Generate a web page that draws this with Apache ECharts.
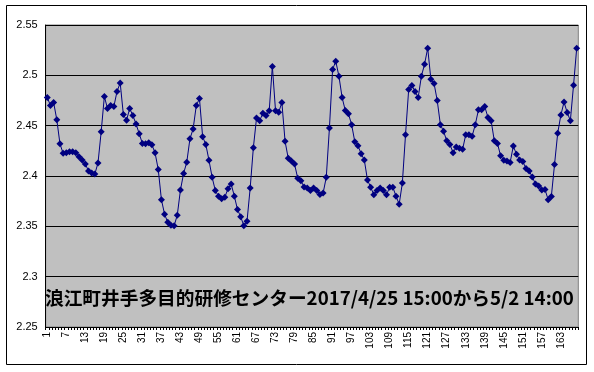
<!DOCTYPE html>
<html><head><meta charset="utf-8">
<script src="https://cdn.jsdelivr.net/npm/echarts@6/dist/echarts.min.js"></script>
<style>html,body{margin:0;padding:0;background:#fff}#c{width:594px;height:372px}</style>
</head><body><div id="c"></div>
<script>
const titleText = '浪江町井手多目的研修センター2017/4/25 15:00から5/2 14:00';
const yTicks = [2.25, 2.3, 2.35, 2.4, 2.45, 2.5, 2.55];
const values = [
 2.478,2.470,2.473,2.456,2.432,2.4225,2.423,2.424,2.424,2.423,
 2.419,2.416,2.412,2.405,2.403,2.402,2.413,2.444,2.479,2.467,
 2.470,2.469,2.484,2.4925,2.461,2.4555,2.467,2.460,2.4516,2.442,
 2.4323,2.432,2.433,2.431,2.423,2.4065,2.3765,2.362,2.354,2.351,
 2.3505,2.361,2.386,2.4026,2.4137,2.437,2.4467,2.470,2.477,2.439,
 2.4314,2.4157,2.3987,2.3856,2.380,2.3775,2.379,2.3873,2.392,2.380,
 2.3667,2.3595,2.3507,2.355,2.388,2.428,2.4575,2.455,2.4624,2.460,
 2.4647,2.5088,2.4647,2.4634,2.473,2.4346,2.4176,2.415,2.4118,2.3977,
 2.3954,2.389,2.388,2.3856,2.3882,2.3856,2.3817,2.383,2.3987,2.4477,
 2.5059,2.514,2.499,2.478,2.465,2.4618,2.451,2.434,2.430,2.4222,
 2.416,2.396,2.3889,2.3814,2.3856,2.388,2.3856,2.3814,2.3889,2.3889,
 2.380,2.372,2.393,2.441,2.486,2.490,2.484,2.478,2.499,2.511,
 2.527,2.496,2.492,2.475,2.451,2.4444,2.435,2.4314,2.4232,2.4288,
 2.4275,2.4265,2.441,2.441,2.4395,2.451,2.4657,2.4657,2.469,2.4582,
 2.455,2.435,2.4324,2.420,2.4157,2.415,2.4134,2.4297,2.4216,2.416,
 2.4144,2.4075,2.405,2.399,2.392,2.390,2.386,2.3866,2.3765,2.3797,
 2.4114,2.4425,2.4605,2.4735,2.463,2.455,2.4902,2.527
];
const categories = values.map((v, i) => String(i + 1));

const chart = echarts.init(document.getElementById('c'), null, {renderer: 'canvas'});
chart.setOption({
  animation: false,
  backgroundColor: '#fff',
  grid: {left: 45.7, right: 15.7, top: 25, bottom: 45, show: true, backgroundColor: '#C0C0C0', borderColor: '#808080', borderWidth: 1},
  xAxis: {
    type: 'category', data: categories, boundaryGap: true,
    axisLine: {lineStyle: {color: '#000', width: 1}},
    axisTick: {show: true, interval: 0, length: 3, lineStyle: {color: '#000'}},
    axisLabel: {interval: 5, rotate: 90, fontSize: 10, color: '#000', fontFamily: 'Liberation Sans, Arial', margin: 5},
    splitLine: {show: false}
  },
  yAxis: {
    type: 'value', min: yTicks[0], max: yTicks[yTicks.length - 1], interval: 0.05,
    axisLine: {show: true, lineStyle: {color: '#000', width: 1}},
    axisTick: {show: false},
    axisLabel: {fontSize: 11, color: '#000', fontFamily: 'Liberation Sans, Arial', margin: 8,
      formatter: v => String(+v.toFixed(2))},
    splitLine: {show: true, lineStyle: {color: '#000', width: 1}}
  },
  series: [{
    type: 'line', data: values, symbol: 'diamond', symbolSize: 7, showAllSymbol: true,
    lineStyle: {color: '#000080', width: 1}, itemStyle: {color: '#000080'}
  }],
  graphic: [
    {type: 'rect', shape: {x: 6.5, y: 5.5, width: 580, height: 359}, style: {fill: 'none', stroke: '#000', lineWidth: 1}, z: 100},
    {type: 'text', left: 45, top: 289, style: {text: titleText, font: 'bold 18.7px "Noto Sans CJK JP"', fill: '#000'}, z: 100}
  ]
});
</script></body></html>
